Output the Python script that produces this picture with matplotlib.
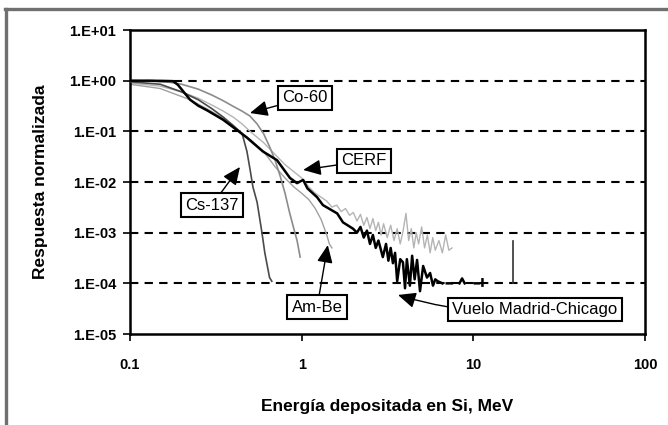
import numpy as np
import matplotlib
matplotlib.use("Agg")
import matplotlib.pyplot as plt
from matplotlib.lines import Line2D

plt.rcParams['font.family'] = ['Liberation Sans', 'DejaVu Sans']

# ---- data (energy in MeV, normalised response) ----
nan = np.nan

vuelo_e = [0.1, 0.13, 0.178, 0.19, 0.224, 0.25, 0.281, 0.348, 0.42, 0.48, 0.595,
           0.718, 0.855, 0.939, 1.02, 1.08, 1.23, 1.33, 1.61, 1.74, 1.99,
           2.1, 2.2, 2.3, 2.4, 2.5, 2.6, 2.7, 2.8, 2.97, 3.1, 3.2, 3.3, 3.4, 3.5,
           3.6, 3.75, 3.89, 4.0, 4.1, 4.27, 4.4, 4.55, 4.7, 4.89, 5.1, 5.37, 5.6,
           5.82, 6.0, 6.2, 6.6, nan, 7.0, 7.5, nan, 8.3, 8.6, 8.9, nan,
           10.2, 10.8, nan, 11.3, 11.3]
vuelo_r = [1.0, 1.0, 0.98, 0.83, 0.42, 0.32, 0.26, 0.17, 0.106, 0.075, 0.04,
           0.027, 0.012, 0.0095, 0.011, 0.0075, 0.005, 0.0035, 0.0024, 0.0016, 0.0012,
           0.001, 0.0013, 0.0008, 0.0011, 0.0006, 0.0009, 0.0005, 0.0007, 0.00033,
           0.0006, 0.00028, 0.0005, 0.00025, 0.0004, 0.00011, 0.0003, 0.00026, 0.00008,
           0.0003, 0.00009, 0.00035, 0.00012, 0.00029, 0.00007, 0.00022, 0.00013,
           0.00016, 0.00009, 0.00012, 0.00011, 0.0001, nan, 0.0001, 0.0001, nan,
           0.0001, 0.000125, 0.0001, nan, 0.0001, 0.0001, nan, 0.00009, 0.00012]

# isolated spike near 17 MeV
spike_e = [17.0, 17.0]
spike_r = [0.0001, 0.0007]

cs137_e = [0.1, 0.15, 0.2, 0.25, 0.3, 0.35, 0.4, 0.45, 0.48, 0.5, 0.52, 0.55,
           0.587, 0.61, 0.65, 0.67]
cs137_r = [0.95, 0.85, 0.6, 0.42, 0.28, 0.19, 0.13, 0.09, 0.04, 0.018, 0.008,
           0.004, 0.001, 0.0004, 0.00013, 0.00011]

co60_e = [0.1, 0.13, 0.17, 0.2, 0.25, 0.3, 0.35, 0.4, 0.45, 0.5, 0.55, 0.6, 0.65,
          0.7, 0.75, 0.8, 0.85, 0.9, 0.94, 0.98]
co60_r = [1.0, 0.98, 0.93, 0.85, 0.68, 0.52, 0.4, 0.31, 0.25, 0.2, 0.14, 0.09,
          0.05, 0.027, 0.013, 0.006, 0.0025, 0.0012, 0.0007, 0.00033]

cerf_e = [0.1, 0.15, 0.2, 0.25, 0.3, 0.35, 0.4, 0.45, 0.5, 0.6, 0.7, 0.8, 0.9,
          1.0, 1.1, 1.2, 1.3, 1.4, 1.5, 1.6, 1.7, 1.8, 1.9, 2.0, 2.1, 2.2, 2.3,
          2.4, 2.5, 2.6, 2.7, 2.8, 2.9, 3.0, 3.15, 3.3, 3.45, 3.6, 3.75, 3.9,
          4.05, 4.2, 4.35, 4.5, 4.65, 4.8, 5.0, 5.2, 5.4, 5.6, 5.8, 6.0, 6.3,
          6.6, 6.9, 7.2, 7.5]
cerf_r = [0.9, 0.78, 0.6, 0.45, 0.33, 0.25, 0.19, 0.14, 0.1, 0.06, 0.035, 0.022,
          0.016, 0.012, 0.008, 0.006, 0.005, 0.0042, 0.0032, 0.0035, 0.0026,
          0.003, 0.0022, 0.0025, 0.0017, 0.0023, 0.0014, 0.002, 0.0012, 0.0019,
          0.0011, 0.0016, 0.0009, 0.0015, 0.0008, 0.0014, 0.0007, 0.0012, 0.0006,
          0.0011, 0.0024, 0.0007, 0.0012, 0.0005, 0.001, 0.0006, 0.0013, 0.0005,
          0.0009, 0.0004, 0.0008, 0.00045, 0.0007, 0.0004, 0.0009, 0.00045, 0.0005]

ambe_e = [0.1, 0.15, 0.224, 0.28, 0.35, 0.42, 0.5, 0.6, 0.7, 0.8, 0.9, 1.0, 1.1,
          1.2, 1.3, 1.4, 1.45, 1.5]
ambe_r = [0.85, 0.7, 0.42, 0.28, 0.18, 0.11, 0.07, 0.04, 0.02, 0.012, 0.008,
          0.006, 0.0045, 0.003, 0.0018, 0.0009, 0.0006, 0.0005]

y_ticks = [1e-5, 1e-4, 1e-3, 1e-2, 1e-1, 1e0, 1e1]
y_labels = ['1.E-05', '1.E-04', '1.E-03', '1.E-02', '1.E-01', '1.E+00', '1.E+01']
x_ticks = [0.1, 1, 10, 100]
x_labels = ['0.1', '1', '10', '100']

fig = plt.figure(figsize=(6.68, 4.25), dpi=100)
ax = fig.add_axes([0.1946, 0.2141, 0.7710, 0.7153])
ax.set_xscale('log')
ax.set_yscale('log')
ax.set_xlim(0.1, 100)
ax.set_ylim(1e-5, 10)

# dashed horizontal grid
for v in y_ticks[1:-1]:
    ax.axhline(v, color='black', lw=1.5, ls=(0, (4, 3)), zorder=1)

ax.plot(cerf_e, cerf_r, color='#b4b4b4', lw=1.0, zorder=2)
ax.plot(ambe_e, ambe_r, color='#a0a0a0', lw=1.0, zorder=2)
ax.plot(co60_e, co60_r, color='#8c8c8c', lw=1.2, zorder=3)
ax.plot(cs137_e, cs137_r, color='#4a4a4a', lw=1.2, zorder=3)
ax.plot(vuelo_e, vuelo_r, color='black', lw=1.8, zorder=4)
ax.plot(spike_e, spike_r, color='#333333', lw=1.2, zorder=4)

ax.set_yticks(y_ticks)
ax.set_yticklabels(y_labels)
ax.set_xticks(x_ticks)
ax.set_xticklabels(x_labels)
ax.minorticks_off()
ax.tick_params(axis='y', direction='out', length=5, width=1.2, pad=5, labelsize=10.5)
ax.tick_params(axis='x', direction='out', length=5, width=1.2, pad=12, labelsize=10.5)
for lab in ax.get_xticklabels() + ax.get_yticklabels():
    lab.set_fontweight('bold')
for s in ax.spines.values():
    s.set_linewidth(1.8)

ax.set_xlabel('Energía depositada en Si, MeV', fontsize=12.5, fontweight='bold', labelpad=20)
ax.set_ylabel('Respuesta normalizada', fontsize=12.5, fontweight='bold', labelpad=15)

box = dict(boxstyle='square,pad=0.25', fc='white', ec='black', lw=1.5)
arrow = dict(arrowstyle='-|>,head_length=0.9,head_width=0.4', color='black', lw=1.0,
             shrinkA=0, shrinkB=0)

ax.annotate('Co-60', xy=(0.50, 0.23), xytext=(1.045, 0.455), fontsize=12,
            ha='center', va='center', bbox=box, arrowprops=arrow, zorder=6)
ax.annotate('CERF', xy=(1.02, 0.0173), xytext=(2.31, 0.026), fontsize=12,
            ha='center', va='center', bbox=box, arrowprops=arrow, zorder=6)
ax.annotate('Cs-137', xy=(0.437, 0.0198), xytext=(0.30, 0.0035), fontsize=12,
            ha='center', va='center', bbox=box, arrowprops=arrow, zorder=6)
ax.annotate('Am-Be', xy=(1.42, 0.00057), xytext=(1.23, 3.4e-5), fontsize=12,
            ha='center', va='center', bbox=box, arrowprops=arrow, zorder=6)
ax.annotate('Vuelo Madrid-Chicago', xy=(3.64, 5.9e-5), xytext=(22.9, 3.0e-5),
            fontsize=12, ha='center', va='center', bbox=box,
            arrowprops=dict(arrow, connectionstyle='arc3,rad=-0.1'), zorder=6)

# grey frame of the scanned figure (top and left edges)
fig.add_artist(Line2D([0.0075, 1.0], [0.979, 0.979], transform=fig.transFigure,
                      color='#707070', lw=2.4))
fig.add_artist(Line2D([0.0090, 0.0090], [0.0, 0.979], transform=fig.transFigure,
                      color='#707070', lw=2.4))

fig.savefig('out.png', dpi=100)
